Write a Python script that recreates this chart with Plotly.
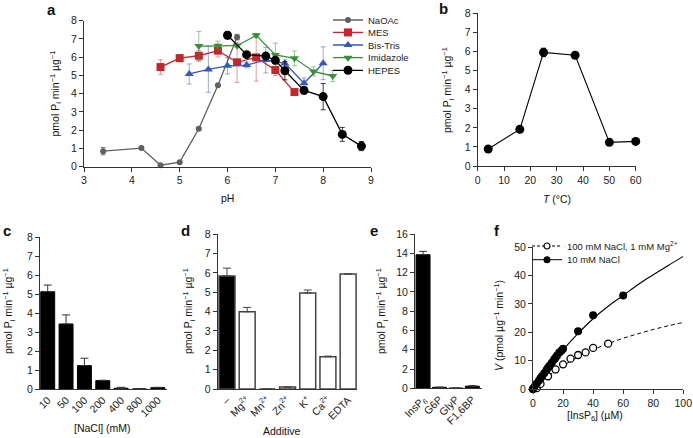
import plotly.graph_objects as go

W, H = 693, 438
FONT = "Liberation Sans, Arial, sans-serif"

# ---------------- data ----------------
# panel a: pH profiles
ph_naoac = [3.4, 4.2, 4.6, 5.0, 5.4, 5.8, 6.2]
v_naoac = [0.85, 1.02, 0.08, 0.25, 2.08, 4.46, 7.1]
e_naoac = [0.2, 0.05, 0.05, 0.05, 0.05, 0.05, 0.15]

ph_mes = [4.6, 5.0, 5.4, 5.8, 6.2, 6.6, 7.0, 7.4]
v_mes = [5.46, 5.95, 6.08, 6.36, 5.72, 5.99, 5.30, 4.09]
e_mes = [0.4, 0.2, 0.3, 0.35, 1.1, 1.3, 0.3, 0.15]

ph_bis = [5.2, 5.6, 6.0, 6.4, 6.8, 7.2, 7.6, 8.0]
v_bis = [5.08, 5.33, 5.53, 5.57, 5.84, 5.66, 4.57, 5.67]
e_bis = [0.55, 1.25, 0.45, 0.15, 0.7, 0.2, 0.3, 0.9]

ph_imi = [5.4, 5.8, 6.2, 6.6, 7.0, 7.4, 7.8, 8.2]
v_imi = [6.61, 6.63, 6.63, 7.2, 6.12, 5.94, 5.22, 4.97]
e_imi = [0.8, 0.25, 0.1, 0.1, 0.65, 0.4, 0.25, 0.3]

ph_hepes = [6.0, 6.4, 6.8, 7.0, 7.2, 7.6, 8.0, 8.4, 8.8]
v_hepes = [7.2, 6.14, 6.06, 5.83, 5.26, 4.18, 3.84, 1.77, 1.13]
e_hepes = [0.2, 0.1, 0.1, 0.15, 0.5, 0.2, 0.72, 0.38, 0.25]

# panel b: temperature
temp_c = [4, 16, 25, 37, 50, 60]
v_temp = [0.89, 1.92, 5.95, 5.8, 1.24, 1.29]
e_temp = [0.05, 0.1, 0.22, 0.1, 0.05, 0.05]

# panel c: NaCl
nacl_labels = ["10", "50", "100", "200", "400", "800", "1000"]
v_nacl = [5.12, 3.42, 1.23, 0.44, 0.04, 0.0, 0.07]
e_nacl = [0.35, 0.48, 0.39, 0.02, 0.05, 0.0, 0.02]

# panel d: additives
add_labels = ["–", "Mg<sup>2+</sup>", "Mn<sup>2+</sup>", "Zn<sup>2+</sup>",
              "K<sup>+</sup>", "Ca<sup>2+</sup>", "EDTA"]
v_add = [5.85, 4.0, 0.0, 0.1, 4.97, 1.67, 5.95]
e_add = [0.4, 0.22, 0.0, 0.0, 0.15, 0.03, 0.0]
add_colors = ["black", "white", "white", "white", "white", "white", "white"]

# panel e: substrates
sub_labels = ["InsP<sub>6</sub>", "G6P", "GlyP", "F1,6BP"]
v_sub = [13.85, 0.1, 0.02, 0.22]
e_sub = [0.35, 0.02, 0.0, 0.05]

# panel f: kinetics
x_open = [0, 2.5, 5, 10, 15, 20, 25, 30, 35, 40, 50]
v_open = [0, 0.3, 1.8, 4.5, 6.9, 8.7, 10.7, 12.0, 12.9, 14.5, 16.0]
x_fill = [0, 1, 2.5, 4, 5, 6, 7.5, 9, 10, 11, 12.5, 14, 15, 16, 17.5, 19, 20, 30, 40, 60]
v_fill = [0, 0.8, 1.9, 3.0, 3.8, 4.5, 5.6, 6.7, 7.5, 8.2, 9.3, 10.4, 11.0, 11.8,
          12.9, 13.6, 14.2, 20.4, 26.0, 33.0]
fit_x = [0, 10, 20, 30, 40, 50, 60, 70, 80, 90, 100]
fit_open = [0, 4.5, 8.2, 11.3, 13.9, 16.0, 17.9, 19.5, 21.0, 22.3, 23.5]
fit_fill = [0, 7.2, 13.8, 19.6, 24.8, 29.2, 33.0, 36.9, 40.3, 43.6, 46.8]

# ---------------- layout helpers ----------------
def xd(p0, p1):
    return [p0 / W, p1 / W]

def yd(top, bottom):
    return [1 - bottom / H, 1 - top / H]

AX = dict(showline=True, linecolor="#333", linewidth=1, ticks="outside", ticklen=4,
          tickcolor="#333", tickwidth=1, showgrid=False, zeroline=False, automargin=False,
          tickfont=dict(family=FONT, size=10.5, color="#222"), fixedrange=True)

fig = go.Figure()

# ---------------- panel a ----------------
series_a = [
    ("NaOAc", ph_naoac, v_naoac, e_naoac, "#5f5f5f", "rgba(95,95,95,0.8)", "circle", 6, "legend"),
    ("MES", ph_mes, v_mes, e_mes, "#c1272d", "rgba(193,39,45,0.45)", "square", 8, "legend2"),
    ("Bis-Tris", ph_bis, v_bis, e_bis, "#3759b5", "rgba(55,89,181,0.5)", "triangle-up", 8, "legend3"),
    ("Imidazole", ph_imi, v_imi, e_imi, "#3b8f3b", "rgba(59,143,59,0.5)", "triangle-down", 8, "legend4"),
    ("HEPES", ph_hepes, v_hepes, e_hepes, "#000000", "rgba(0,0,0,0.75)", "circle", 9, "legend5"),
]
for name, xs, ys, es, col, ecol, sym, sz, lg in series_a:
    fig.add_trace(go.Scatter(
        x=xs, y=ys, name=name, mode="lines+markers", xaxis="x", yaxis="y",
        line=dict(color=col, width=1.3), marker=dict(color=col, symbol=sym, size=sz),
        error_y=dict(type="data", array=es, color=ecol, thickness=1, width=2.5),
        legend=lg, cliponaxis=False))

# ---------------- panel b ----------------
fig.add_trace(go.Scatter(
    x=temp_c, y=v_temp, mode="lines+markers", xaxis="x2", yaxis="y2", showlegend=False,
    line=dict(color="#000", width=1.1), marker=dict(color="#000", size=9),
    error_y=dict(type="data", array=e_temp, color="#000", thickness=1, width=2.5),
    cliponaxis=False))

# ---------------- panel c ----------------
fig.add_trace(go.Bar(
    x=nacl_labels, y=v_nacl, xaxis="x3", yaxis="y3", showlegend=False, width=0.76,
    marker=dict(color="black", line=dict(color="black", width=1)),
    error_y=dict(type="data", array=e_nacl, arrayminus=[0] * len(e_nacl), symmetric=False,
                 color="#333", thickness=1, width=4)))

# ---------------- panel d ----------------
fig.add_trace(go.Bar(
    x=add_labels, y=v_add, xaxis="x4", yaxis="y4", showlegend=False, width=0.79,
    marker=dict(color=add_colors, line=dict(color="#444", width=1.5)),
    error_y=dict(type="data", array=e_add, arrayminus=[0] * len(e_add), symmetric=False,
                 color="#444", thickness=1, width=4)))

# ---------------- panel e ----------------
fig.add_trace(go.Bar(
    x=sub_labels, y=v_sub, xaxis="x5", yaxis="y5", showlegend=False, width=0.85,
    marker=dict(color="black", line=dict(color="black", width=1)),
    error_y=dict(type="data", array=e_sub, arrayminus=[0] * len(e_sub), symmetric=False,
                 color="#333", thickness=1, width=4)))

# ---------------- panel f ----------------
fig.add_trace(go.Scatter(
    x=fit_x, y=fit_open, mode="lines", xaxis="x6", yaxis="y6", showlegend=False,
    line=dict(color="#000", width=1, dash="4px,3px", shape="spline")))
fig.add_trace(go.Scatter(
    x=fit_x, y=fit_fill, mode="lines", xaxis="x6", yaxis="y6", showlegend=False,
    line=dict(color="#000", width=1.1, shape="spline")))
fig.add_trace(go.Scatter(
    x=x_open, y=v_open, mode="markers", xaxis="x6", yaxis="y6", showlegend=False,
    marker=dict(color="white", size=7, line=dict(color="#000", width=1.3)), cliponaxis=False))
fig.add_trace(go.Scatter(
    x=x_fill, y=v_fill, mode="markers", xaxis="x6", yaxis="y6", showlegend=False,
    marker=dict(color="#000", size=8), cliponaxis=False))
# legend entries for panel f
fig.add_trace(go.Scatter(
    x=[None], y=[None], mode="lines+markers", xaxis="x6", yaxis="y6",
    name="100 mM NaCl, 1 mM Mg<sup>2+</sup>", legend="legend6",
    line=dict(color="#000", width=1, dash="3px,2px"),
    marker=dict(color="white", size=6, line=dict(color="#000", width=1.2))))
fig.add_trace(go.Scatter(
    x=[None], y=[None], mode="lines+markers", xaxis="x6", yaxis="y6",
    name="10 mM NaCl", legend="legend7",
    line=dict(color="#000", width=1), marker=dict(color="#000", size=7)))

# ---------------- axes ----------------
layout = dict(
    width=W, height=H, margin=dict(l=0, r=0, t=0, b=0, autoexpand=False),
    paper_bgcolor="white", plot_bgcolor="white",
    font=dict(family=FONT, size=10.5, color="#222"),
    xaxis=dict(AX, domain=xd(84, 371), range=[3, 9], dtick=1, anchor="y"),
    yaxis=dict(AX, domain=yd(20.7, 166.7), range=[0, 8], dtick=1, anchor="x"),
    xaxis2=dict(AX, domain=xd(477.7, 635.7), range=[0, 60], dtick=10, anchor="y2"),
    yaxis2=dict(AX, domain=yd(13.3, 166), range=[0, 8], dtick=1, anchor="x2"),
    xaxis3=dict(AX, domain=xd(40, 167), type="category", range=[-0.42, 6.5], ticks="",
                tickangle=-45, anchor="y3"),
    yaxis3=dict(AX, domain=yd(237, 389), range=[0, 8], dtick=1, anchor="x3"),
    xaxis4=dict(AX, domain=xd(217.7, 357), type="category", range=[-0.46, 6.44], ticks="",
                tickangle=-45, anchor="y4"),
    yaxis4=dict(AX, domain=yd(234.3, 389), range=[0, 8], dtick=1, anchor="x4"),
    xaxis5=dict(AX, domain=xd(415, 481.7), type="category", range=[-0.49, 3.57], ticks="",
                tickangle=-45, anchor="y5"),
    yaxis5=dict(AX, domain=yd(234, 388.3), range=[0, 16], dtick=2, anchor="x5"),
    xaxis6=dict(AX, domain=xd(533, 683.3), range=[0, 100], dtick=20, anchor="y6"),
    yaxis6=dict(AX, domain=yd(247.3, 389), range=[0, 50], dtick=10, anchor="x6"),
)

# one legend per entry for exact row placement
def leg(px_text, py, off=45):
    return dict(x=(px_text - off) / W, y=1 - py / H, xanchor="left", yanchor="middle",
                bgcolor="rgba(0,0,0,0)", borderwidth=0, itemclick=False,
                itemdoubleclick=False, font=dict(family=FONT, size=9.5, color="#222"))

layout["legend"] = leg(373, 20.0)
layout["legend2"] = leg(373, 32.4)
layout["legend3"] = leg(373, 45.0)
layout["legend4"] = leg(373, 57.7)
layout["legend5"] = leg(373, 70.3)
layout["legend6"] = leg(565, 246, off=38)
layout["legend7"] = leg(565, 259.7, off=38)
fig.update_layout(**layout)

# ---------------- annotations (titles and panel letters) ----------------
ytitle = "pmol P<sub>i</sub> min<sup>−1</sup> µg<sup>−1</sup>"
def ann(text, px, py, size=10.5, angle=0, bold=False):
    fig.add_annotation(text=f"<b>{text}</b>" if bold else text, x=px / W, y=1 - py / H,
                       xref="paper", yref="paper", showarrow=False, textangle=angle,
                       xanchor="center", yanchor="middle",
                       font=dict(family=FONT, size=size, color="#111"))

ann(ytitle, 55, 93.5, angle=-90)
ann(ytitle, 448, 90, angle=-90)
ann(ytitle, 9, 311, angle=-90)
ann(ytitle, 189, 311, angle=-90)
ann(ytitle, 382, 311, angle=-90)
ann("<i>V</i> (pmol µg<sup>−1</sup> min<sup>−1</sup>)", 498, 326, angle=-90)

ann("pH", 227, 198)
ann("<i>T</i> (°C)", 557, 199)
ann("[NaCl] (mM)", 102, 428)
ann("Additive", 282, 431)
ann("[InsP<sub>6</sub>] (µM)", 595, 416)

ann("a", 51, 10, size=15, bold=True)
ann("b", 444, 8, size=15, bold=True)
ann("c", 7, 230, size=15, bold=True)
ann("d", 185, 230, size=15, bold=True)
ann("e", 374, 230, size=15, bold=True)
ann("f", 497, 230, size=15, bold=True)

fig.write_html("out.html", config={"displayModeBar": False},
               post_script="document.body.style.margin='0px';document.body.style.overflow='hidden';")
